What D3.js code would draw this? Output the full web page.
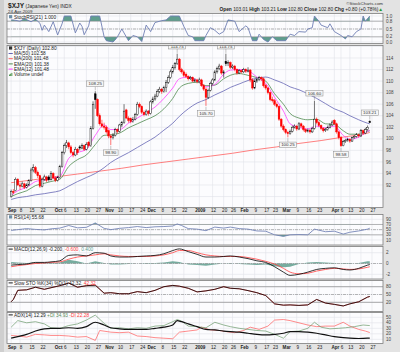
<!DOCTYPE html>
<html><head><meta charset="utf-8">
<script src="https://cdn.jsdelivr.net/npm/d3@7/dist/d3.min.js"></script>
<style>
body{margin:0;background:#e3e3e3;}
svg{display:block;font-family:"Liberation Sans",Arial,sans-serif;}
</style></head><body>
<svg id="c" width="400" height="352"></svg>
<script>
// ---------------- DATA ----------------
const holidays = ["2008-09-01","2008-11-27","2008-12-25","2009-01-01","2009-01-19","2009-02-16","2009-04-10"];
// daily candles [open, high, low, close], one per trading day from 2-Sep-2008 to 24-Apr-2009
const ohlc = [
[90.0,91.2,89.8,90.9],[90.9,91.3,90.4,90.7],[91.0,93.3,90.9,93.0],[93.0,93.2,91.8,92.0],[92.0,92.4,91.2,91.8],
[91.8,92.6,91.6,92.2],[92.2,92.4,91.3,91.6],[91.6,92.3,91.4,92.0],[92.0,93.0,91.8,92.8],[92.8,95.0,92.6,94.6],
[94.6,95.6,94.2,95.0],[95.0,95.3,93.9,94.2],[94.2,94.5,93.2,93.6],[93.6,93.8,91.5,91.8],[91.8,93.3,91.6,93.0],
[93.0,93.8,92.7,93.4],[93.4,93.6,92.5,92.8],[93.4,93.7,92.6,92.9],[92.9,94.4,92.8,94.0],[94.0,94.2,93.0,93.2],
[93.2,93.5,92.5,92.8],[92.8,93.6,92.6,93.3],[93.3,95.5,93.1,95.2],[95.2,97.9,95.0,97.6],[97.6,99.2,97.3,98.8],
[98.8,99.8,98.4,99.3],[99.3,99.5,98.2,98.6],[98.6,98.9,97.3,97.6],[97.6,97.9,96.8,97.2],[97.2,98.6,97.0,98.2],
[98.2,98.4,97.2,97.6],[98.6,98.9,98.0,98.4],[98.4,99.2,98.2,98.8],[98.8,99.0,97.9,98.2],[98.2,99.4,98.0,99.0],
[99.4,99.6,98.5,98.8],[98.8,102.2,98.6,101.8],[101.8,106.5,101.6,106.0],[107.8,108.25,105.2,106.8],[106.8,107.0,103.8,104.0],
[104.0,104.4,102.3,102.6],[102.6,103.3,101.9,102.2],[102.2,102.8,101.6,102.0],[102.0,102.3,100.9,101.2],[101.4,101.6,100.1,100.5],
[100.5,100.8,98.9,100.2],[100.2,101.0,99.9,100.6],[100.6,101.9,100.4,101.6],[101.6,101.8,100.9,101.3],[101.3,102.6,101.1,102.4],
[102.4,103.1,102.0,102.8],[102.8,106.0,102.6,104.8],[105.0,105.2,103.4,103.6],[103.6,103.9,102.8,103.2],[103.5,103.7,102.7,103.0],
[103.0,103.8,102.8,103.4],[103.4,104.5,103.2,104.2],[104.2,106.4,104.0,106.0],[106.0,106.3,105.3,105.6],[105.6,105.8,104.3,104.6],
[104.6,104.9,103.9,104.2],[104.2,105.1,104.0,104.8],[104.8,105.0,104.0,104.4],[104.4,106.7,104.2,106.4],[106.4,107.3,106.1,106.9],
[106.9,107.8,106.6,107.4],[107.4,108.6,107.2,108.2],[108.2,109.0,107.9,108.6],[108.6,108.8,107.8,108.2],[108.2,109.2,108.0,108.9],
[108.9,110.2,108.1,109.8],[109.8,111.0,109.5,110.6],[110.6,112.0,110.4,111.6],[111.6,112.8,111.3,112.4],[112.4,113.3,112.0,113.0],
[113.0,114.75,112.8,113.8],[113.8,114.0,111.7,112.0],[112.0,112.3,111.3,111.6],[111.6,111.9,110.7,111.0],[111.2,111.5,110.5,110.8],
[110.8,111.0,110.1,110.4],[110.4,110.9,110.2,110.6],[110.6,110.8,109.8,110.0],[110.0,110.5,109.8,110.2],[110.2,110.4,109.6,109.9],
[109.9,110.6,109.7,110.2],[110.2,110.4,109.0,109.2],[109.2,109.5,108.3,108.6],[108.6,108.9,105.7,107.2],[107.2,108.7,106.9,108.4],
[108.4,109.9,108.2,109.6],[109.6,110.5,109.3,110.2],[110.2,111.9,110.0,111.6],[111.6,112.5,111.3,112.2],[112.2,113.0,111.9,112.6],
[112.6,112.8,111.1,111.4],[111.4,111.9,110.6,111.6],[113.4,114.75,112.6,113.0],[113.0,113.6,112.6,113.2],[113.2,113.4,112.1,112.4],
[112.4,112.9,112.1,112.6],[112.6,112.8,111.7,112.0],[112.0,112.2,111.1,111.4],[111.4,112.1,111.2,111.8],[111.8,112.0,111.3,111.6],
[111.6,112.3,111.4,112.0],[112.0,112.2,111.4,111.7],[111.7,112.4,111.5,111.9],[111.9,112.1,109.8,110.2],[110.2,110.5,108.5,108.8],
[108.8,110.3,108.6,110.0],[110.0,110.6,109.7,110.3],[110.3,110.9,110.0,110.6],[110.6,110.8,110.0,110.4],[110.4,110.6,108.9,109.2],
[109.2,109.5,108.5,108.8],[108.8,109.0,107.7,108.0],[108.0,108.2,106.5,106.8],[106.8,107.3,106.3,106.6],[106.6,106.9,105.7,106.0],
[106.0,106.3,105.3,105.6],[105.6,105.8,103.1,103.4],[103.4,103.6,101.9,102.2],[102.2,102.5,101.3,101.6],[101.6,101.8,100.8,101.1],
[101.1,101.4,100.25,100.9],[100.9,101.6,100.7,101.3],[101.3,102.3,101.1,102.0],[102.0,102.5,101.8,102.2],[102.2,102.4,101.4,101.7],
[101.7,102.9,101.5,102.6],[102.6,102.8,101.9,102.2],[102.2,102.4,101.3,101.6],[101.6,101.8,101.0,101.3],[101.3,101.8,101.1,101.5],
[101.5,101.7,100.9,101.2],[101.2,102.1,101.0,101.8],[101.8,106.6,101.6,103.4],[103.4,103.7,102.5,102.8],[102.8,103.1,102.0,102.3],
[102.3,102.5,101.5,101.8],[101.8,102.0,101.1,101.4],[101.4,101.9,101.2,101.6],[101.6,102.3,101.4,102.0],[102.0,102.7,101.8,102.4],
[102.4,103.2,102.2,102.9],[103.2,103.4,102.4,102.6],[102.6,102.8,100.9,101.2],[101.2,101.4,99.9,100.2],[100.2,100.5,98.58,98.8],
[98.8,99.8,98.7,99.5],[99.5,100.0,99.3,99.7],[99.7,100.2,99.5,99.9],[99.9,100.1,99.3,99.6],[99.6,100.4,99.5,100.2],
[100.2,100.7,100.0,100.4],[100.4,101.0,100.2,100.7],[100.7,100.9,100.2,100.5],[100.5,101.7,100.3,101.4],[101.4,101.6,100.7,101.0],
[101.0,101.9,100.8,101.6],[101.6,102.3,101.4,102.0],[103.01,103.21,102.80,102.80]
];
// overlays, [trading-day index, value]
const ma50 = [[0,89.5],[3,89.8],[7,90.0],[11,90.3],[15,90.5],[18,90.7],[22,91.0],[26,91.8],[30,92.6],[34,93.3],[38,94.0],[42,95.0],[45,95.9],[49,96.8],[53,97.6],[57,98.5],[61,99.4],[65,100.3],[69,101.5],[73,102.7],[76,103.9],[80,105.2],[84,106.2],[88,106.8],[92,107.6],[96,108.3],[99,108.9],[103,109.5],[107,110.1],[111,110.5],[115,110.7],[119,110.2],[123,109.6],[126,109.0],[130,108.5],[134,107.8],[138,107.0],[142,106.1],[146,105.2],[150,104.6],[153,104.0],[157,103.3],[161,102.7],[162,102.58]];
const ma200 = [[0,92.4],[10,92.9],[20,93.4],[30,93.9],[40,94.4],[50,94.9],[60,95.5],[70,96.0],[80,96.5],[90,97.0],[100,97.5],[110,98.1],[120,98.6],[130,99.2],[140,99.7],[150,100.3],[160,100.9],[162,101.1]];
const ema20 = [[0,90.0],[3,90.5],[7,91.0],[11,91.9],[15,92.3],[18,92.6],[22,93.0],[26,95.2],[30,96.4],[34,97.2],[38,99.0],[42,100.6],[45,100.7],[49,101.0],[53,101.9],[57,102.6],[61,103.3],[65,104.0],[69,105.2],[73,107.0],[76,108.8],[80,109.6],[84,109.8],[88,109.2],[92,109.3],[96,110.4],[99,111.0],[103,111.3],[107,111.0],[111,110.6],[115,110.0],[119,107.8],[123,106.0],[126,104.4],[130,103.6],[134,103.3],[138,103.4],[142,102.6],[146,102.5],[150,101.4],[153,100.8],[157,100.8],[161,101.3],[162,101.38]];
const ema12 = [[0,90.2],[3,91.0],[7,91.6],[11,92.6],[15,92.9],[18,93.2],[22,93.5],[26,96.6],[30,97.6],[34,98.2],[38,100.6],[42,102.4],[45,101.6],[49,101.6],[53,102.7],[57,103.6],[61,104.5],[65,105.5],[69,107.0],[73,108.8],[76,110.4],[80,110.7],[84,110.1],[88,109.0],[92,109.4],[96,111.2],[99,111.9],[103,112.0],[107,111.8],[111,110.7],[115,109.6],[119,107.2],[123,104.8],[126,102.6],[130,102.0],[134,101.7],[138,102.2],[142,101.9],[146,102.2],[150,100.6],[153,99.9],[157,100.3],[161,101.3],[162,101.48]];
// indicators
const stochRsi = [[0,.85],[1,.85],[4,.80],[6,.9],[9,.78],[11,.88],[13,.72],[14,.45],[15,.65],[17,.40],[19,.78],[21,.27],[23,.70],[24,1],[27,1],[29,.35],[31,.73],[32,.6],[33,.28],[35,.62],[36,1],[40,1],[42,.2],[43,.05],[46,0],[47,.08],[48,.2],[50,.5],[52,.2],[53,.05],[55,.25],[57,.2],[59,.02],[61,.65],[63,.4],[65,.75],[68,.82],[70,.85],[72,1],[76,1],[78,.6],[80,.25],[82,.2],[83,.05],[87,.05],[88,.25],[90,.55],[92,.45],[94,.3],[96,.4],[98,.85],[101,.8],[103,.4],[106,.62],[107,.55],[109,.05],[111,.05],[112,.3],[114,.1],[116,0],[118,.2],[120,.05],[124,.05],[126,.3],[128,.25],[130,.4],[133,.38],[134,.5],[136,.55],[137,1],[139,.8],[140,.65],[143,.55],[144,.7],[146,.4],[149,.25],[151,.12],[152,.25],[154,.2],[156,.4],[158,.5],[159,1],[160,.8],[162,1]];
const rsi = [[0,47],[3,50],[7,54],[11,51],[15,49],[18,53],[22,56],[26,66],[30,57],[34,59],[38,76],[42,55],[45,50],[49,55],[53,58],[57,62],[61,58],[65,61],[69,62],[73,64],[75,72],[77,66],[80,54],[84,52],[88,46],[92,60],[96,56],[99,60],[103,54],[107,52],[111,45],[115,44],[119,30],[123,24],[126,30],[130,31],[134,30],[137,52],[142,42],[146,44],[150,33],[153,40],[157,45],[161,52],[162,55.68]];
const macdDays = [0,3,7,11,15,18,22,26,30,34,38,42,45,49,53,57,61,65,69,73,76,80,84,88,92,96,99,103,107,111,115,119,123,126,130,134,138,142,146,150,153,157,161,162];
const macdLine = [-0.3,-0.2,-0.1,0.2,0.2,0.3,0.5,1.5,1.6,1.4,2.0,1.9,1.4,1.2,1.2,1.3,1.4,1.5,1.8,2.4,2.7,2.2,1.7,1.2,1.2,1.3,1.4,1.2,0.9,0.5,0.2,-0.6,-1.6,-2.2,-2.0,-1.6,-1.1,-0.9,-0.8,-1.1,-1.2,-0.9,-0.3,-0.2];
const macdSignal = [-0.6,-0.4,-0.2,0.0,0.1,0.2,0.3,0.8,1.2,1.4,1.6,1.8,1.6,1.4,1.3,1.3,1.3,1.4,1.6,2.0,2.4,2.4,2.0,1.6,1.4,1.3,1.3,1.3,1.1,0.8,0.4,-0.1,-0.9,-1.6,-1.9,-1.8,-1.4,-1.1,-0.9,-1.0,-1.1,-1.0,-0.7,-0.6];
const slowK = [[0,22],[1,31],[3,66],[7,68],[11,78],[15,70],[18,76],[22,84],[26,94],[30,78],[34,84],[38,86],[42,55],[45,57],[49,53],[53,53],[57,61],[61,57],[65,66],[69,80],[73,85],[76,82],[80,74],[84,60],[88,64],[92,70],[96,80],[99,74],[103,72],[107,65],[111,57],[115,46],[119,14],[123,9],[126,10],[130,8],[134,10],[138,31],[142,17],[146,12],[150,6],[153,14],[157,22],[161,40],[162,42.32]];
const adx = [[0,12],[3,15],[7,19],[11,25],[15,29],[18,30],[22,30],[26,31],[30,30],[34,33],[38,41],[42,36],[45,31],[49,29],[53,28],[57,28],[61,28],[65,30],[69,32],[73,36],[75,44],[77,42],[80,38],[84,33],[88,28],[92,27],[96,25],[99,24],[103,23],[107,21],[111,19],[115,18],[119,19],[123,21],[126,24],[130,24],[134,23],[138,21],[142,18],[146,15],[150,13],[153,12],[157,11.5],[161,12],[162,12.29]];
const plusDI = [[0,32],[3,44],[7,40],[11,42],[15,38],[18,31],[22,30],[26,35],[30,38],[34,45],[38,54],[42,39],[45,30],[49,31],[53,29],[57,31],[61,30],[65,34],[69,35],[73,42],[75,46],[77,43],[80,34],[84,33],[88,31],[92,41],[96,36],[99,33],[103,30],[107,28],[111,26],[115,25],[119,19],[123,12],[126,24],[130,25],[134,30],[137,41],[140,32],[144,29],[148,30],[151,31],[155,33],[159,36],[162,34.93]];
const minusDI = [[0,17],[3,16],[7,14],[11,19],[15,18],[18,17],[22,17],[26,16],[30,14],[34,15],[38,8],[40,26],[45,23],[49,22],[53,23],[57,16],[61,15],[65,13],[69,12],[73,11],[76,23],[80,25],[84,27],[86,32],[90,27],[94,26],[97,24],[101,22],[105,26],[108,32],[112,28],[116,34],[119,45],[123,46],[126,44],[130,40],[134,36],[138,33],[142,34],[146,34],[150,41],[153,34],[157,28],[160,25],[162,22.28]];
// annotations (trading-day index, price, text, side)
const notes = [[38,108.25,"108.25","up"],[45,98.9,"98.90","down"],[75,114.75,"114.75","up"],[88,105.7,"105.70","down"],[97,114.75,"114.75","up"],[125,100.25,"100.25","down"],[137,106.6,"106.60","up"],[149,98.58,"98.58","down"],[162,103.21,"103.21","up"]];
// x axis ticks
const tickDates = ["2008-09-02","2008-09-08","2008-09-15","2008-09-22","2008-10-01","2008-10-06","2008-10-13","2008-10-20","2008-10-27","2008-11-03","2008-11-10","2008-11-17","2008-11-24","2008-12-01","2008-12-08","2008-12-15","2008-12-22","2009-01-02","2009-01-12","2009-01-20","2009-01-26","2009-02-02","2009-02-09","2009-02-17","2009-02-23","2009-03-02","2009-03-09","2009-03-16","2009-03-23","2009-04-01","2009-04-06","2009-04-13","2009-04-20","2009-04-27"];
const tickLabels = ["Sep","8","15","22","Oct","6","13","20","27","Nov","10","17","24","Dec","8","15","22","2009","12","20","26","Feb","9","17","23","Mar","9","16","23","Apr","6","13","20","27"];
const priceTicks = [92,94,96,98,100,102,104,106,108,110,112,114];
const stochTicks = [0,0.2,0.5,0.8,1.0];
const stochTickLabels = ["0.0","0.2","0.5","0.8","1.0"];
const rsiTicks = [10,30,50,70,90];
const macdTicks = [-2,0,2];
const stoTicks = [20,50,80];
const adxTicks = [10,20,30,40,50];

// ---------------- RENDER ----------------
const tradingDays = [];
for (let t = Date.UTC(2008,8,1); t <= Date.UTC(2009,4,8); t += 864e5) {
  const d = new Date(t), wd = d.getUTCDay(), s = d.toISOString().slice(0,10);
  if (wd > 0 && wd < 6 && !holidays.includes(s)) tradingDays.push(s);
}
const dayIdx = s => tradingDays.indexOf(s);

const svg = d3.select("#c");
const L = 7, R = 383;
const x = d3.scaleLinear().domain([4,163]).range([20,372]);
const panels = {
  stoch:[13.5,43.5], price:[45.5,207.5], rsi:[214.5,245], macd:[246.5,279], sto:[280.5,311.5], adx:[312.5,343.5]
};
const yS = d3.scaleLinear().domain([0,1]).range([42,16]);
const yP = d3.scaleLinear().domain([92,114]).range([185,58]);
const yR = d3.scaleLinear().domain([10,90]).range([240,219.3]);
const yM = d3.scaleLinear().domain([-2,2]).range([274.3,252.7]);
const yK = d3.scaleLinear().domain([20,80]).range([302.3,286.7]);
const yA = d3.scaleLinear().domain([10,30]).range([339.3,328.3]);

svg.append("rect").attr("width",400).attr("height",352).attr("fill","#e3e3e3");
svg.append("rect").attr("x",0).attr("y",0).attr("width",4).attr("height",352).attr("fill","#cfcfcf");

const defs = svg.append("defs");
const tickIdx = tickDates.map(dayIdx);
const gridCol = "#e0e3ea";

function panel(name, ticks, ys) {
  const [t,b] = panels[name];
  svg.append("rect").attr("x",L).attr("y",t).attr("width",R-L).attr("height",b-t).attr("fill","#fcfcfe");
  defs.append("clipPath").attr("id","clip-"+name).append("rect").attr("x",L).attr("y",t).attr("width",R-L).attr("height",b-t);
  const g = svg.append("g").attr("clip-path",`url(#clip-${name})`);
  g.selectAll(null).data(tickIdx).join("line")
    .attr("x1",d=>x(d)).attr("x2",d=>x(d)).attr("y1",t).attr("y2",b)
    .attr("stroke",gridCol).attr("stroke-width",0.6);
  g.selectAll(null).data(ticks).join("line")
    .attr("x1",L).attr("x2",R).attr("y1",d=>ys(d)).attr("y2",d=>ys(d))
    .attr("stroke",gridCol).attr("stroke-width",0.6);
  return g;
}
function frame(name){
  const [t,b] = panels[name];
  svg.append("rect").attr("x",L).attr("y",t).attr("width",R-L).attr("height",b-t)
    .attr("fill","none").attr("stroke","#7d7d7d").attr("stroke-width",0.8);
}
function rightAxis(ticks, ys, labels) {
  svg.append("g").selectAll("text").data(ticks).join("text")
    .attr("x",386).attr("y",d=>ys(d)+1.6).attr("font-size",4.6).attr("fill","#444")
    .text((d,i)=>labels ? labels[i] : d);
}
function refLine(g, ys, v, dash, col) {
  g.append("line").attr("x1",L).attr("x2",R).attr("y1",ys(v)).attr("y2",ys(v))
    .attr("stroke",col||"#8c8c8c").attr("stroke-width",0.6).attr("stroke-dasharray",dash||null);
}
const lin = ys => d3.line().x(d=>x(d[0])).y(d=>ys(d[1]));
const smooth = ys => d3.line().x(d=>x(d[0])).y(d=>ys(d[1])).curve(d3.curveMonotoneX);
function bandFill(g, name, data, ys, lvl, above, col) {
  const [t,b] = panels[name];
  const id = "bf-"+name+lvl;
  defs.append("clipPath").attr("id",id).append("rect").attr("x",L)
    .attr("y", above ? t : ys(lvl)).attr("width",R-L).attr("height", above ? ys(lvl)-t : b-ys(lvl));
  g.append("path").datum(data).attr("clip-path",`url(#${id})`)
    .attr("d", d3.area().x(d=>x(d[0])).y0(ys(lvl)).y1(d=>ys(d[1])))
    .attr("fill",col);
}
const fillCol = "#5f9d8e";

// ---- Stoch RSI
{
  const g = panel("stoch", stochTicks, yS);
  bandFill(g,"stoch",stochRsi,yS,0.8,true,fillCol);
  bandFill(g,"stoch",stochRsi,yS,0.2,false,fillCol);
  refLine(g,yS,0.8); refLine(g,yS,0.2); refLine(g,yS,0.5,"3,1,1,1");
  g.append("path").datum(stochRsi).attr("d",lin(yS)).attr("fill","none").attr("stroke","#6f7fb4").attr("stroke-width",0.9);
  frame("stoch"); rightAxis(stochTicks,yS,stochTickLabels);
}
// ---- Price
{
  const g = panel("price", [90,92,94,96,98,100,102,104,106,108,110,112,114,116], yP);
  g.append("path").datum(ma200).attr("d",smooth(yP)).attr("fill","none").attr("stroke","#ff5f5f").attr("stroke-width",0.8);
  g.append("path").datum(ma50).attr("d",smooth(yP)).attr("fill","none").attr("stroke","#6464b4").attr("stroke-width",0.8);
  g.append("path").datum(ema20).attr("d",smooth(yP)).attr("fill","none").attr("stroke","#4f8a4f").attr("stroke-width",0.8);
  g.append("path").datum(ema12).attr("d",smooth(yP)).attr("fill","none").attr("stroke","#ff40ff").attr("stroke-width",0.8);
  const bw = 1.7;
  ohlc.forEach((d,i)=>{
    const [o,h,l,c] = d;
    const prev = i>0 ? ohlc[i-1][3] : o;
    const col = c >= prev ? "#000" : "#f00";
    const hollow = c >= o;
    const cx = x(i);
    g.append("line").attr("x1",cx).attr("x2",cx).attr("y1",yP(h)).attr("y2",yP(l)).attr("stroke",col).attr("stroke-width",0.55);
    const top = yP(Math.max(o,c)), bh = Math.max(0.6, Math.abs(yP(o)-yP(c)));
    g.append("rect").attr("x",cx-bw/2).attr("y",top).attr("width",bw).attr("height",bh)
      .attr("fill",hollow ? "#fff" : col).attr("stroke",col).attr("stroke-width",0.45);
  });
  notes.forEach(([d,v,txt,side])=>{
    const cx = x(d), py = yP(v);
    const w = txt.length*2.45+2.4, hgt = 5.6;
    const cy = side==="up" ? py-7.5 : py+7.5;
    g.append("line").attr("x1",cx).attr("x2",cx).attr("y1",py+(side==="up"?-0.8:0.8)).attr("y2",side==="up"?cy+hgt/2:cy-hgt/2)
      .attr("stroke","#8a8a8a").attr("stroke-width",0.5);
    g.append("rect").attr("x",cx-w/2).attr("y",cy-hgt/2).attr("width",w).attr("height",hgt)
      .attr("fill","#f6f6f6").attr("stroke","#8a8a8a").attr("stroke-width",0.5);
    g.append("text").attr("x",cx).attr("y",cy+1.6).attr("text-anchor","middle").attr("font-size",4.4).attr("fill","#333").text(txt);
  });
  frame("price"); rightAxis(priceTicks,yP);
  // legend
  const lg = svg.append("g").attr("font-size",4.8).attr("fill","#222");
  const rows = [
    {t:"$XJY (Daily) 102.80", type:"candle"},
    {t:"MA(50) 102.58", c:"#6464b4"},
    {t:"MA(200) 101.48", c:"#ff5f5f"},
    {t:"EMA(20) 101.38", c:"#4f8a4f"},
    {t:"EMA(12) 101.48", c:"#ff40ff"},
    {t:"Volume undef", type:"vol"}
  ];
  rows.forEach((r,i)=>{
    const by = 50 + i*5.2;
    if (r.type==="candle") {
      lg.append("rect").attr("x",9).attr("y",by-3.6).attr("width",3.2).attr("height",3.2).attr("fill","#333");
    } else if (r.type==="vol") {
      [0,1.2,2.4].forEach((o,k)=>lg.append("rect").attr("x",9+o).attr("y",by-1.5-k*0.8).attr("width",0.9).attr("height",1.5+k*0.8).attr("fill","#3f8f3f"));
    } else {
      lg.append("line").attr("x1",8.6).attr("x2",12.8).attr("y1",by-1.7).attr("y2",by-1.7).attr("stroke",r.c).attr("stroke-width",1);
    }
    lg.append("text").attr("x",14).attr("y",by).text(r.t);
  });
}
// ---- RSI
{
  const g = panel("rsi", rsiTicks, yR);
  bandFill(g,"rsi",rsi,yR,70,true,fillCol);
  bandFill(g,"rsi",rsi,yR,30,false,fillCol);
  refLine(g,yR,70); refLine(g,yR,30); refLine(g,yR,50,"3,1,1,1");
  g.append("path").datum(rsi).attr("d",lin(yR)).attr("fill","none").attr("stroke","#6f7fb4").attr("stroke-width",0.85);
  frame("rsi"); rightAxis(rsiTicks,yR);
}
// ---- MACD
{
  const g = panel("macd", macdTicks, yM);
  const hist = macdDays.map((d,i)=>[d, macdLine[i]-macdSignal[i]]);
  g.append("path").datum(hist).attr("d",d3.area().x(d=>x(d[0])).y0(yM(0)).y1(d=>yM(d[1])))
    .attr("fill","#5f9d8e").attr("opacity",0.85);
  refLine(g,yM,0,"3,1,1,1");
  const sig = macdDays.map((d,i)=>[d,macdSignal[i]]);
  const mac = macdDays.map((d,i)=>[d,macdLine[i]]);
  g.append("path").datum(sig).attr("d",smooth(yM)).attr("fill","none").attr("stroke","#ff4040").attr("stroke-width",0.8);
  g.append("path").datum(mac).attr("d",smooth(yM)).attr("fill","none").attr("stroke","#000").attr("stroke-width",0.8);
  frame("macd"); rightAxis(macdTicks,yM);
}
// ---- Slow STO
{
  const g = panel("sto", stoTicks, yK);
  refLine(g,yK,80,null,"#777"); refLine(g,yK,20,null,"#777"); refLine(g,yK,50,"3,1,1,1");
  g.append("path").datum(slowK).attr("d",lin(yK)).attr("fill","none").attr("stroke","#ff4040").attr("stroke-width",0.8);
  g.append("path").datum(slowK).attr("d",lin(yK)).attr("fill","none").attr("stroke","#000").attr("stroke-width",0.8);
  frame("sto"); rightAxis(stoTicks,yK);
}
// ---- ADX
{
  const g = panel("adx", adxTicks, yA);
  g.append("path").datum(minusDI).attr("d",lin(yA)).attr("fill","none").attr("stroke","#ff5a5a").attr("stroke-width",0.7);
  g.append("path").datum(plusDI).attr("d",lin(yA)).attr("fill","none").attr("stroke","#6a9a6a").attr("stroke-width",0.7);
  g.append("path").datum(adx).attr("d",smooth(yA)).attr("fill","none").attr("stroke","#111").attr("stroke-width",1.2);
  frame("adx"); rightAxis(adxTicks,yA);
}
// ---- panel labels
function label(y, parts, icon) {
  const t = svg.append("text").attr("x",14).attr("y",y).attr("font-size",4.8).attr("fill","#222");
  parts.forEach(p=>t.append("tspan").attr("fill",p[1]||"#222").text(p[0]));
  if (icon==="sq") svg.append("rect").attr("x",9).attr("y",y-3.5).attr("width",3.2).attr("height",3.2).attr("fill","#6d8fa8");
  else svg.append("line").attr("x1",8.6).attr("x2",12.8).attr("y1",y-1.7).attr("y2",y-1.7).attr("stroke","#222").attr("stroke-width",1);
}
label(18.6, [["StochRSI(21) 1.000"]], "sq");
label(218.8, [["RSI(14) 55.68"]], "sq");
label(250.8, [["MACD(12,26,9) -0.200, "],["-0.600","#ff4040"],[", 0.400","#5f9d8e"]], "line");
label(284.6, [["Slow STO %K(34) %D(1) 42.32, "],["42.32","#ff4040"]], "line");
label(316.6, [["ADX(14) 12.29 "],["+DI 34.93","#5a8a5a"],[" -DI 22.28","#ff4040"]], "line");

// ---- date axes
[212.4, 349.4].forEach(yy=>{
  svg.append("g").selectAll("text").data(tickIdx).join("text")
    .attr("x",d=>x(d)+1).attr("y",yy).attr("text-anchor","middle").attr("font-size",4.6)
    .attr("font-weight",(d,i)=>isNaN(+tickLabels[i]) || tickLabels[i]==="2009" ? "bold" : "normal")
    .attr("fill","#222").text((d,i)=>tickLabels[i]);
});

// ---- header
const h1 = svg.append("text").attr("x",8).attr("y",7.6).attr("fill","#222");
h1.append("tspan").attr("font-size",6.6).attr("font-weight","bold").text("$XJY");
h1.append("tspan").attr("font-size",4.8).text(" (Japanese Yen) INDX");
svg.append("text").attr("x",8).attr("y",12.6).attr("font-size",4.4).attr("fill","#333").text("24-Apr-2009");
svg.append("text").attr("x",383).attr("y",5.4).attr("text-anchor","end").attr("font-size",4.4).attr("fill","#333").text("©StockCharts.com");
const h2 = svg.append("text").attr("x",383).attr("y",11).attr("text-anchor","end").attr("font-size",4.8).attr("fill","#222");
[["Open",1],[" 103.01  ",0],["High",1],[" 103.21  ",0],["Low",1],[" 102.80  ",0],["Close",1],[" 102.80  ",0],["Chg",1],[" +0.80 (+0.78%)",0]].forEach(p=>{
  h2.append("tspan").attr("font-weight",p[1]?"bold":"normal").text(p[0]);
});
h2.append("tspan").attr("fill","#2a9a2a").text("▲");
</script></body></html>
